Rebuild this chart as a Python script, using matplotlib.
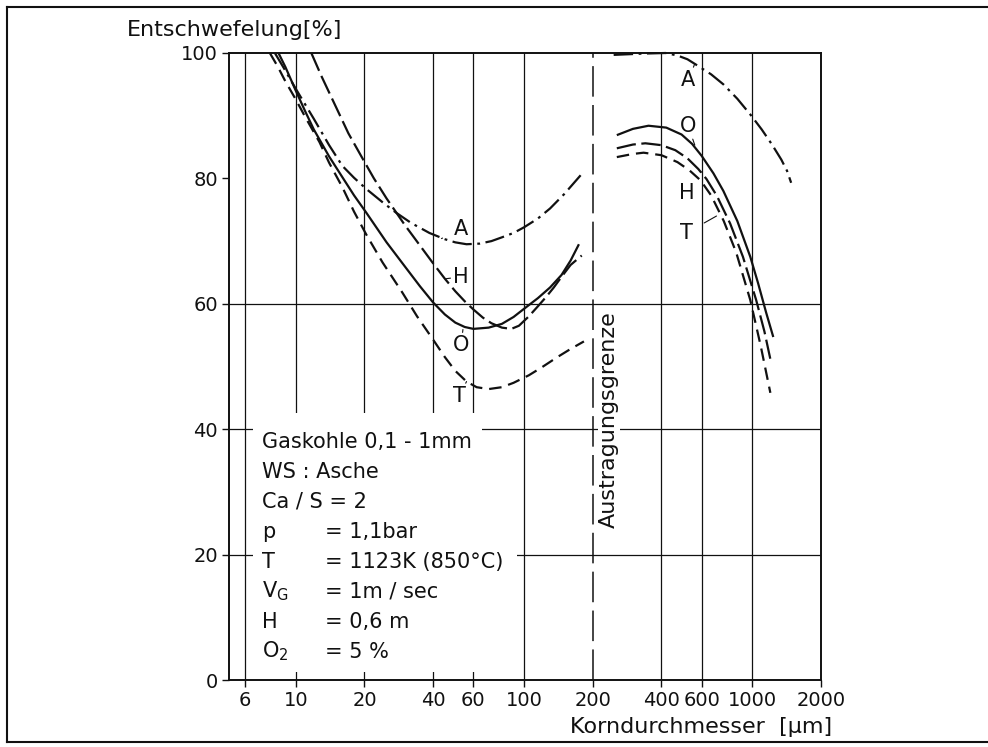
import numpy as np
import matplotlib
matplotlib.use("Agg")
import matplotlib.pyplot as plt
from matplotlib.patches import Rectangle
from matplotlib.lines import Line2D

plt.rcParams['font.family'] = ['DejaVu Sans']
plt.rcParams['mathtext.default'] = 'regular'
plt.rcParams['lines.scale_dashes'] = False

# --- data (x = grain diameter in um, y = desulphurisation in %) ---
# left branch (below the discharge limit)
a_left_x = [8.1, 8.8, 10, 12, 14, 16, 18, 20.4, 24, 27.6, 32, 38.5, 45, 50, 56, 64, 72, 80, 90,
            100, 115, 130, 150, 177]
a_left_y = [100, 97.8, 94.3, 89.5, 85.3, 82.0, 80.1, 78.3, 76.2, 74.5, 72.9, 71.3, 70.3, 69.8,
            69.5, 69.6, 70.0, 70.6, 71.3, 72.2, 73.6, 75.2, 77.5, 80.5]

o_left_x = [8.4, 9, 10, 11, 12, 14, 16, 18, 20.4, 25, 30, 35, 40, 45, 50, 55, 60, 70, 80, 90,
            100, 115, 130, 146, 160, 174]
o_left_y = [100, 97.8, 94.0, 90.7, 87.8, 83.5, 80.2, 77.3, 74.5, 69.8, 66.0, 62.8, 60.2, 58.3,
            57.0, 56.3, 56.0, 56.2, 56.8, 57.9, 59.2, 60.9, 62.6, 64.6, 66.9, 69.5]

h_left_x = [11.7, 13, 15, 17, 19.6, 22, 25, 30, 35, 39.7, 45, 50, 55, 60, 66, 72, 80, 88, 95,
            105, 115, 125, 135, 146, 160, 179]
h_left_y = [100, 96.2, 91.4, 87.2, 83.2, 80.0, 76.8, 72.6, 69.3, 66.6, 64.0, 62.0, 60.4, 59.1,
            57.8, 56.9, 56.2, 56.0, 56.5, 58.0, 59.6, 61.1, 62.6, 64.3, 66.2, 67.7]

t_left_x = [7.7, 8.35, 9, 10, 11, 12.7, 14, 16, 18, 20.4, 24, 29.3, 34, 39.6, 45, 50, 56, 62,
            70, 80, 90, 105, 120, 140, 160, 183]
t_left_y = [100, 97.8, 95.5, 92.6, 89.8, 85.8, 82.5, 78.6, 74.7, 71.0, 66.6, 61.8, 58.0, 54.5,
            51.5, 49.3, 47.6, 46.7, 46.4, 46.7, 47.4, 48.6, 49.9, 51.5, 52.8, 54.0]

# right branch (above the discharge limit)
a_right_x = [247, 330, 417, 470, 520, 581, 660, 747, 860, 990, 1100, 1220, 1340, 1420, 1480]
a_right_y = [99.7, 99.9, 100, 99.6, 99.0, 97.9, 96.6, 95.0, 92.7, 90.0, 87.8, 85.4, 83.0, 81.2, 79.3]

o_right_x = [255, 300, 351, 420, 490, 545, 600, 676, 747, 860, 980, 1060, 1150, 1236]
o_right_y = [86.9, 87.9, 88.4, 88.1, 87.0, 85.5, 83.6, 80.8, 78.0, 73.2, 67.5, 63.3, 58.6, 54.7]

h_right_x = [255, 300, 340, 400, 460, 520, 580, 630, 700, 800, 910, 1040, 1130, 1211]
h_right_y = [84.8, 85.4, 85.6, 85.3, 84.5, 83.2, 81.5, 79.9, 77.2, 72.8, 67.5, 60.6, 55.6, 50.5]

t_right_x = [255, 300, 334, 400, 470, 530, 593, 660, 750, 850, 980, 1090, 1200]
t_right_y = [83.4, 83.9, 84.1, 83.7, 82.6, 81.3, 79.7, 77.3, 73.2, 68.2, 60.6, 53.2, 45.8]

discharge_limit = 200
x_ticks = [6, 10, 20, 40, 60, 100, 200, 400, 600, 1000, 2000]
x_grid = [6, 10, 20, 40, 60, 100, 400, 600, 1000]
y_ticks = [0, 20, 40, 60, 80, 100]
y_grid = [20, 40, 60]

info_left = ["Gaskohle 0,1 - 1mm", "WS : Asche", "Ca / S = 2", "p", "T", "V$_G$", "H", "O$_2$"]
info_right = ["", "", "", "= 1,1bar", "= 1123K (850°C)", "= 1m / sec", "= 0,6 m", "= 5 %"]

ink = "#111111"
styles = {
    "A": dict(ls=(0, (14, 4, 2, 4)), lw=1.6),
    "O": dict(ls="-", lw=1.6),
    "H": dict(ls=(0, (14, 4)), lw=1.6),
    "T": dict(ls=(0, (9, 5)), lw=1.6),
}

fig = plt.figure(figsize=(9.88, 7.47), dpi=100)
ax = fig.add_axes([229 / 988, 67 / 747, 592 / 988, 627 / 747])
ax.set_xscale("log")
ax.set_xlim(5.1, 2000)
ax.set_ylim(0, 100)

# grid
for gx in x_grid:
    ax.axvline(gx, color=ink, lw=0.9, zorder=1)
for gy in y_grid:
    ax.axhline(gy, color=ink, lw=0.9, zorder=1)
ax.axvline(discharge_limit, color=ink, lw=1.1, ls=(0, (22, 6)), zorder=1)

# white area behind the parameter block
ax.add_patch(Rectangle((0.0405, 0.013), 0.387, 0.413, transform=ax.transAxes,
                       facecolor="white", edgecolor="none", zorder=2))
ax.add_patch(Rectangle((0.0405, 0.191), 0.446, 0.018, transform=ax.transAxes,
                       facecolor="white", edgecolor="none", zorder=2))

# curves
curves = [
    ("A", a_left_x, a_left_y), ("O", o_left_x, o_left_y),
    ("H", h_left_x, h_left_y), ("T", t_left_x, t_left_y),
    ("A", a_right_x, a_right_y), ("O", o_right_x, o_right_y),
    ("H", h_right_x, h_right_y), ("T", t_right_x, t_right_y),
]
for name, xs, ys in curves:
    ax.plot(xs, ys, color=ink, solid_capstyle="butt", dash_capstyle="butt",
            solid_joinstyle="round", zorder=3, clip_on=False, **styles[name])

# curve labels with small leader lines
labels = [
    ("A", (53, 72.0), (43.5, 70.4)),
    ("H", (53, 64.3), (45.5, 64.0)),
    ("O", (53, 53.4), (54, 55.9)),
    ("T", (52, 45.3), (56, 47.6)),
    ("A", (525, 95.7), (560, 98.3)),
    ("O", (525, 88.3), (560, 85.3)),
    ("H", (515, 77.7), (600, 81.0)),
    ("T", (515, 71.3), (697, 74.0)),
]
for name, txt_pos, pt in labels:
    ax.annotate(name, xy=pt, xytext=txt_pos, fontsize=15, color=ink,
                ha="center", va="center", zorder=4,
                arrowprops=dict(arrowstyle="-", lw=0.8, color=ink,
                                shrinkA=7, shrinkB=0))

ax.text(236, 41.6, "Austragungsgrenze", rotation=90, fontsize=16, color=ink,
        ha="center", va="center", zorder=2,
        bbox=dict(facecolor="white", edgecolor="none", pad=1))

# parameter block
y0, step = 0.380, 0.0478
for i, (left, right) in enumerate(zip(info_left, info_right)):
    ax.text(0.056, y0 - i * step, left, transform=ax.transAxes, fontsize=15,
            color=ink, ha="left", va="center", zorder=4)
    if right:
        ax.text(0.162, y0 - i * step, right, transform=ax.transAxes, fontsize=15,
                color=ink, ha="left", va="center", zorder=4)

# axes styling
ax.set_xticks(x_ticks)
ax.set_xticklabels([str(v) for v in x_ticks])
ax.minorticks_off()
ax.set_yticks(y_ticks)
ax.set_yticklabels([str(v) for v in y_ticks])
ax.tick_params(axis="both", direction="out", length=5, width=1.0, labelsize=14,
               colors=ink, pad=3)
for sp in ax.spines.values():
    sp.set_linewidth(1.4)
    sp.set_color(ink)

fig.text(127 / 988, 1 - 30 / 747, "Entschwefelung[%]", fontsize=16, color=ink,
         ha="left", va="center")
fig.text(570 / 988, 1 - 727 / 747, "Korndurchmesser  [µm]", fontsize=16, color=ink,
         ha="left", va="center")

# outer frame of the scanned figure
for xs, ys in [([7, 7], [7, 742]), ([7, 988], [7, 7]), ([7, 988], [742, 742])]:
    fig.add_artist(Line2D([x / 988 for x in xs], [1 - y / 747 for y in ys],
                          color=ink, lw=1.5))

fig.savefig("out.png", dpi=100)
